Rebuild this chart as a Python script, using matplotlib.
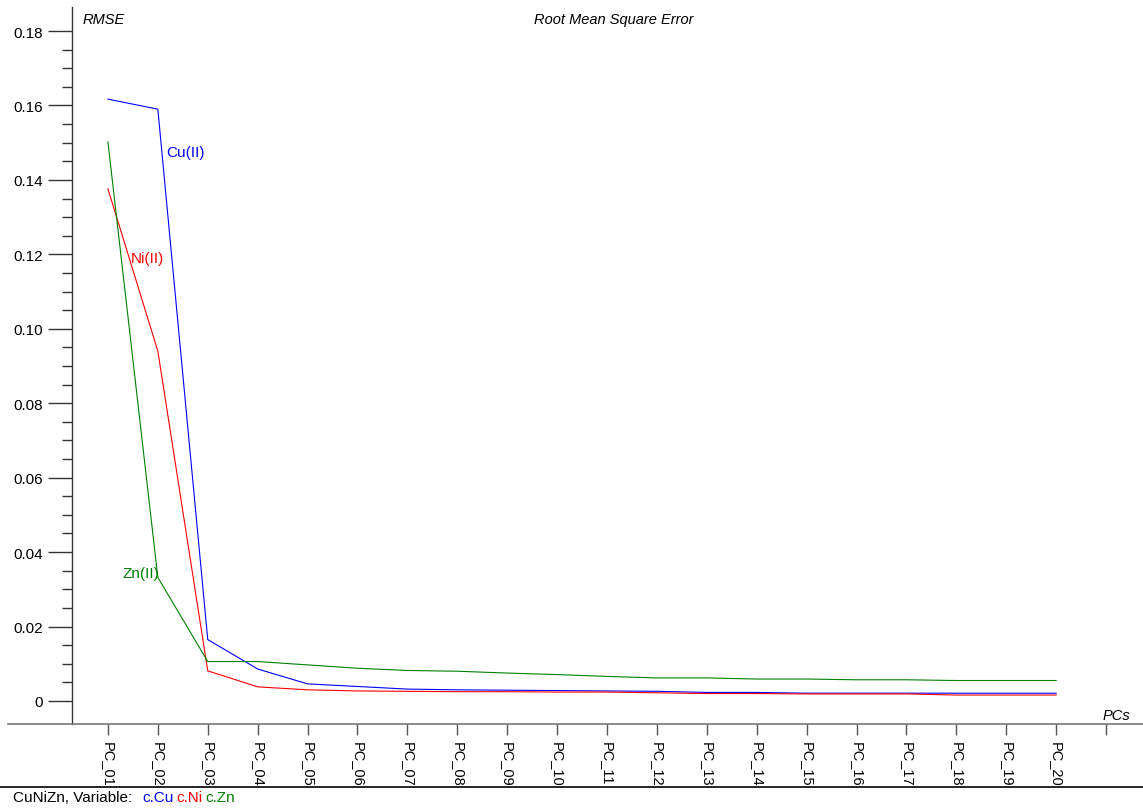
import matplotlib
matplotlib.use("Agg")
import matplotlib.pyplot as plt
from matplotlib.lines import Line2D
from matplotlib.ticker import FixedLocator, FuncFormatter

plt.rcParams['font.family'] = ['Liberation Sans', 'DejaVu Sans']
plt.rcParams['font.size'] = 10.5

# data
pcs = ["PC_%02d" % i for i in range(1, 21)]
cu = [0.1617, 0.1590, 0.0165, 0.0086, 0.0046, 0.0039, 0.0032, 0.0030, 0.0029, 0.0028,
      0.0027, 0.0026, 0.0023, 0.0023, 0.0021, 0.0021, 0.0021, 0.0021, 0.0021, 0.0021]
ni = [0.1376, 0.0940, 0.0081, 0.0038, 0.0030, 0.0027, 0.0026, 0.0025, 0.0025, 0.0024,
      0.0024, 0.0022, 0.0020, 0.0020, 0.0019, 0.0019, 0.0019, 0.0016, 0.0016, 0.0016]
zn = [0.1502, 0.0332, 0.0106, 0.0106, 0.0097, 0.0088, 0.0082, 0.0080, 0.0075, 0.0071,
      0.0066, 0.0062, 0.0062, 0.0059, 0.0059, 0.0057, 0.0057, 0.0055, 0.0055, 0.0055]
series = [("Cu(II)", "c.Cu", cu, "#0000ff"),
          ("Ni(II)", "c.Ni", ni, "#ff0000"),
          ("Zn(II)", "c.Zn", zn, "#008000")]
# label anchors (x index, y value)
label_pos = {"Cu(II)": (1.16, 0.1475), "Ni(II)": (0.46, 0.119), "Zn(II)": (0.30, 0.0345)}
yticks_major = [0, 0.02, 0.04, 0.06, 0.08, 0.10, 0.12, 0.14, 0.16, 0.18]
yticks_minor = [i * 0.005 for i in range(37) if i % 4]

W, H = 1143, 812
fig = plt.figure(figsize=(W / 100, H / 100), dpi=100)
ax = fig.add_axes([72 / W, (H - 725) / H, (W - 72) / W, (725 - 8) / H])

x = list(range(len(pcs)))
for name, short, vals, col in series:
    ax.plot(x, vals, color=col, lw=0.8)
    lx, ly = label_pos[name]
    ax.text(lx, ly, name, color=col, fontsize=11, va='center', ha='left')

ax.set_xlim(-0.72, 20.74)
ax.set_ylim(-0.00618, 0.18645)

ax.yaxis.set_major_locator(FixedLocator(yticks_major))
ax.yaxis.set_minor_locator(FixedLocator(yticks_minor))
ax.yaxis.set_major_formatter(FuncFormatter(lambda v, p: "0" if abs(v) < 1e-9 else "%.2f" % v))
ax.tick_params(axis='y', which='major', length=17, width=1, color='#333333', labelsize=11, pad=4)
ax.tick_params(axis='y', which='minor', length=7, width=1, color='#333333')

ax.set_xticks(x + [20])
ax.set_xticklabels(pcs + [""], rotation=270, fontsize=10.5)
ax.tick_params(axis='x', which='major', length=8, width=1, color='#555555', pad=4)

for s in ['top', 'right', 'bottom']:
    ax.spines[s].set_visible(False)
ax.spines['left'].set_color('#333333')
ax.spines['left'].set_linewidth(1)

# x axis line spans the figure width
fig.add_artist(Line2D([8 / W, 1.0], [(H - 725) / H] * 2, color='#777777', lw=1.2))
fig.add_artist(Line2D([0.0, 1.0], [(H - 788) / H] * 2, color='black', lw=1.2))

fig.text(83 / W, (H - 20) / H, "RMSE", style='italic', fontsize=10.5, va='center')
fig.text(614 / W, (H - 20) / H, "Root Mean Square Error", style='italic', fontsize=10.5,
         va='center', ha='center')
fig.text(1116 / W, (H - 716) / H, "PCs", style='italic', fontsize=10.5, va='center', ha='center')

# footer
fig.canvas.draw()
r = fig.canvas.get_renderer()
t = fig.text(13 / W, (H - 798) / H, "CuNiZn, Variable:", fontsize=11, va='center')
xpos = t.get_window_extent(r).x1 + 10
for name, short, vals, col in series:
    t = fig.text(xpos / W, (H - 798) / H, short, color=col, fontsize=11, va='center')
    xpos = t.get_window_extent(r).x1 + 3

fig.savefig("out.png", dpi=100)
